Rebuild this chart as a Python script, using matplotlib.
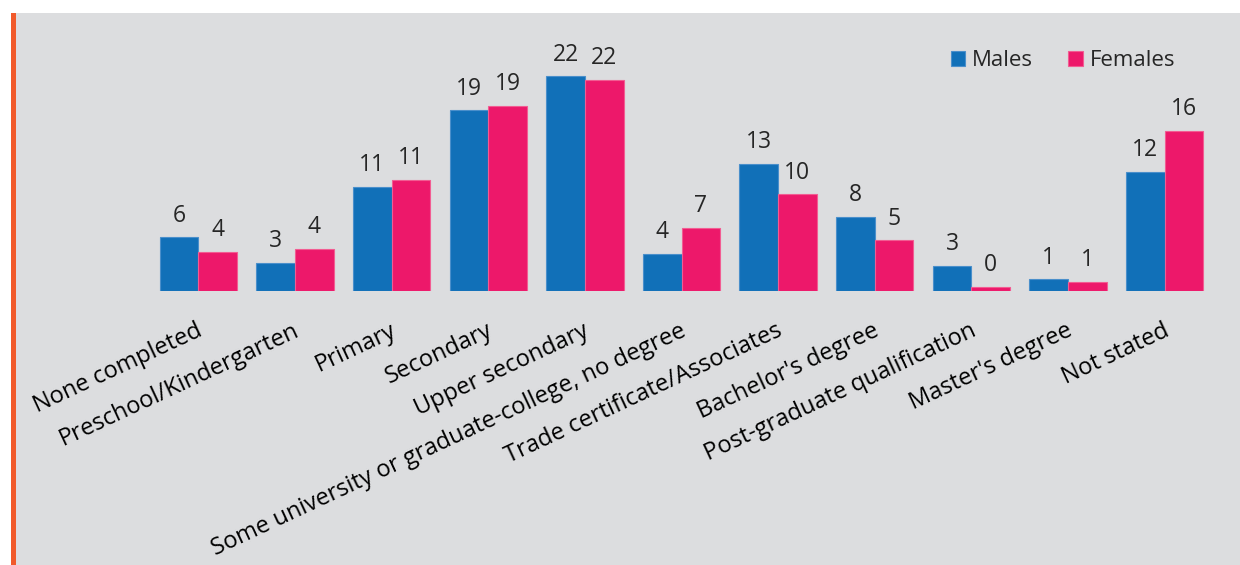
import matplotlib
matplotlib.use("Agg")
import matplotlib.pyplot as plt
import matplotlib.transforms as mtransforms
import numpy as np

categories = ["None completed", "Preschool/Kindergarten", "Primary", "Secondary",
              "Upper secondary", "Some university or graduate-college, no degree",
              "Trade certificate/Associates", "Bachelor's degree",
              "Post-graduate qualification", "Master's degree", "Not stated"]
males = [5.5, 2.9, 10.7, 18.5, 22.0, 3.8, 13.0, 7.6, 2.6, 1.2, 12.2]
females = [4.0, 4.3, 11.4, 19.0, 21.6, 6.5, 9.9, 5.2, 0.4, 0.9, 16.4]
male_labels = ["6", "3", "11", "19", "22", "4", "13", "8", "3", "1", "12"]
female_labels = ["4", "4", "11", "19", "22", "7", "10", "5", "0", "1", "16"]

BLUE = "#1170B8"
PINK = "#ED186A"
BG = "#DCDDDF"
ORANGE = "#F15A2B"

plt.rcParams['font.family'] = ['Open Sans', 'DejaVu Sans']

W, H = 1240, 565
fig = plt.figure(figsize=(W / 100, H / 100), dpi=100)
fig.patch.set_facecolor("white")

# gray panel and orange left border
fig.add_artist(plt.Rectangle((11 / W, 0), 1 - 11 / W, (H - 13) / H,
                             transform=fig.transFigure, facecolor=BG,
                             edgecolor="none", zorder=-10))
fig.add_artist(plt.Rectangle((11 / W, 0), 5 / W, (H - 13) / H,
                             transform=fig.transFigure, facecolor=ORANGE,
                             edgecolor="none", zorder=-9))

left_px, right_px = 150, 1213
base_px = 291
scale = 9.76
ymax = 26
ax = fig.add_axes([left_px / W, (H - base_px) / H, (right_px - left_px) / W,
                   ymax * scale / H])
ax.set_facecolor("none")

x = np.arange(len(categories))
bw = 0.4
b1 = ax.bar(x - bw / 2, males, bw, color=BLUE, edgecolor="#4A8FCB",
            linewidth=0.8, label="Males")
b2 = ax.bar(x + bw / 2, females, bw, color=PINK, edgecolor="#F25C92",
            linewidth=0.8, label="Females")

ax.bar_label(b1, labels=male_labels, padding=7, fontsize=16.5, color="#262626")
ax.bar_label(b2, labels=female_labels, padding=7, fontsize=16.5, color="#262626")

ax.set_xlim(-0.5, len(categories) - 0.5)
ax.set_ylim(0, ymax)
for s in ax.spines.values():
    s.set_visible(False)
ax.set_yticks([])
ax.set_xticks(x)
ax.set_xticklabels(categories, rotation=25, ha="right", rotation_mode="anchor",
                   fontsize=17, color="black")
ax.tick_params(axis="x", length=0, pad=20)
offset = mtransforms.ScaledTranslation(-2 / 100, 0, fig.dpi_scale_trans)
for lab in ax.get_xticklabels():
    lab.set_transform(lab.get_transform() + offset)

leg = ax.legend(loc="upper right", bbox_to_anchor=(1195 / W, (H - 30) / H),
                bbox_transform=fig.transFigure, ncol=2, frameon=False,
                fontsize=16, handlelength=0.65, handleheight=0.65,
                handletextpad=0.3, columnspacing=1.6)
for t in leg.get_texts():
    t.set_color("#262626")

fig.savefig("out.png", dpi=100, facecolor=fig.get_facecolor())
